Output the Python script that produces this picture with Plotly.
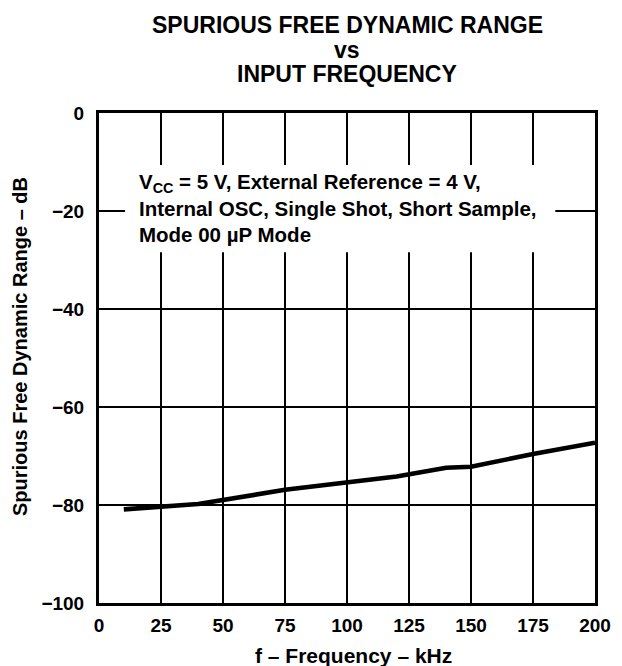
import plotly.graph_objects as go

freq_khz = [10, 25, 40, 75, 100, 120, 140, 150, 175, 200]
sfdr_db = [-80.9, -80.4, -79.8, -76.9, -75.4, -74.2, -72.4, -72.2, -69.6, -67.3]
x_ticks = [0, 25, 50, 75, 100, 125, 150, 175, 200]
x_tick_text = ["0", "25", "50", "75", "100", "125", "150", "175", "200"]
y_ticks = [0, -20, -40, -60, -80, -100]
y_tick_text = ["0", "\u221220", "\u221240", "\u221260", "\u221280", "\u2212100"]

title_lines = ["SPURIOUS FREE DYNAMIC RANGE", "vs", "INPUT FREQUENCY"]
note_text = ("V<sub>CC</sub> = 5 V, External Reference = 4 V,<br>"
             "Internal OSC, Single Shot, Short Sample,<br>"
             "Mode 00 \u00b5P Mode")

FONT = "Liberation Sans"
OFF = 8  # page body margin in which the figure sits
W, H = 622 - OFF, 666 - OFF
L, R, T, B = 99 - OFF, 27, 113 - OFF, 63
PW, PH = W - L - R, H - T - B


def py(page_y):
    """paper y from page pixel y"""
    return (H - B - (page_y - OFF)) / PH


def px(page_x):
    return (page_x - OFF - L) / PW


def bold(labels):
    return ["<b>%s</b>" % s for s in labels]


fig = go.Figure()
fig.add_trace(go.Scatter(x=freq_khz, y=sfdr_db, mode="lines",
                         line=dict(color="black", width=4.6), showlegend=False))

fig.update_layout(
    width=W, height=H, margin=dict(l=L, r=R, t=T, b=B),
    paper_bgcolor="white", plot_bgcolor="white",
    font=dict(family=FONT, color="black"),
    xaxis=dict(range=[0, 200], tickvals=x_ticks, ticktext=bold(x_tick_text), ticks="",
               showgrid=True, gridcolor="black", gridwidth=2, zeroline=False,
               showline=True, linecolor="black", linewidth=3, mirror=True,
               tickfont=dict(family=FONT, size=19, color="black"),
               ticklabelstandoff=3),
    yaxis=dict(range=[-100, 0], tickvals=y_ticks, ticktext=bold(y_tick_text), ticks="",
               showgrid=True, gridcolor="black", gridwidth=2, zeroline=False,
               showline=True, linecolor="black", linewidth=3, mirror=True,
               tickfont=dict(family=FONT, size=19, color="black"),
               ticklabelstandoff=8),
)

# white box behind the note (covers gridlines)
fig.add_shape(type="rect", xref="x", yref="y", x0=10.5, x1=184, y0=-10.6, y1=-28.4,
              fillcolor="white", line=dict(width=0), layer="above")

fig.add_annotation(xref="x", yref="y", x=15.3, y=-19.3, xanchor="left", yanchor="middle",
                   text=note_text, showarrow=False, align="left",
                   font=dict(family=FONT, size=20.5, color="black", weight="bold"))

title_y = [25, 50, 74]
for txt, yy in zip(title_lines, title_y):
    fig.add_annotation(xref="paper", yref="paper", x=0.5, y=py(yy),
                       xanchor="center", yanchor="middle", text=txt, showarrow=False,
                       font=dict(family=FONT, size=23, color="black", weight="bold"))

fig.add_annotation(xref="paper", yref="paper", x=px(353), y=py(655),
                   xanchor="center", yanchor="middle", text="f \u2013 Frequency \u2013 kHz",
                   showarrow=False,
                   font=dict(family=FONT, size=21, color="black", weight="bold"))
fig.add_annotation(xref="paper", yref="paper", x=px(20), y=py(347),
                   xanchor="center", yanchor="middle", textangle=-90,
                   text="Spurious Free Dynamic Range \u2013 dB", showarrow=False,
                   font=dict(family=FONT, size=20, color="black", weight="bold"))

fig.write_html("out.html")
